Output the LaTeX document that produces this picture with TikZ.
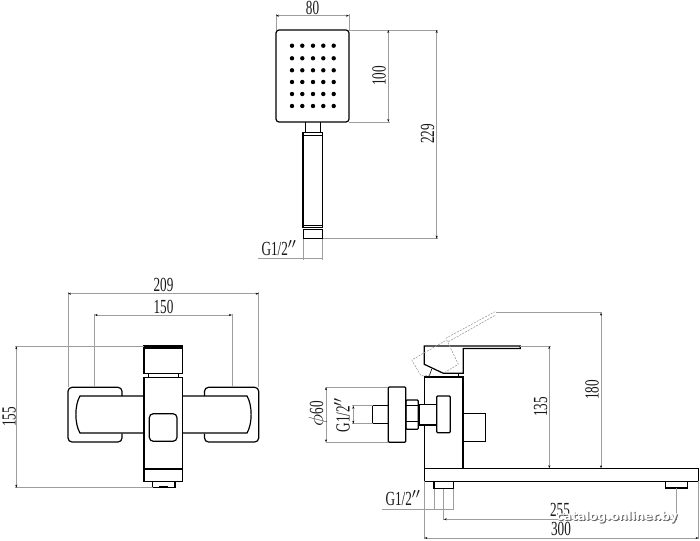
\documentclass[tikz,border=0pt]{standalone}
\usepackage{fontspec}
\usetikzlibrary{arrows.meta}
\newfontfamily\dimfont[FakeStretch=0.66]{Liberation Serif}
\newfontfamily\markfont{DejaVu Sans}
\definecolor{dimgray}{rgb}{0.62, 0.62, 0.62}
\tikzset{part/.style={line width=1.2pt, color=black}}
\tikzset{thinpart/.style={line width=0.6pt, color=black}}
\tikzset{dimline/.style={line width=0.6pt, color=dimgray}}
\tikzset{dimarrow/.style={line width=0.6pt, color=dimgray, {Stealth[length=3pt,width=2pt,black]}-{Stealth[length=3pt,width=2pt,black]}}}
\tikzset{ghost/.style={line width=0.6pt, color=dimgray, dash pattern=on 2pt off 1.2pt}}
\tikzset{dimtext/.style={font=\dimfont\fontsize{20}{20}\selectfont, inner sep=0pt, text=black!90}}
\tikzset{hole/.style={circle, fill=black, inner sep=0pt, minimum size=4.4pt}}
\tikzset{marktext/.style={font=\markfont\bfseries\fontsize{12}{12}\selectfont, inner sep=0pt}}

\begin{document}
\begin{tikzpicture}[x=1pt, y=-1pt]
        \useasboundingbox (0, 0) rectangle (700, 540);

        % hand shower
        \draw [part, rounded corners=3pt] (276, 30) rectangle (349, 122);
        \foreach \hx in {292, 302.3, 313, 323.3, 333.7}
            \foreach \hy in {45.7, 58.3, 70.3, 82, 94, 106}
                \node[hole] at (\hx, \hy) {};
        \draw [thinpart] (305.7, 122) -- (305.7, 132.7);
        \draw [thinpart] (320.3, 122) -- (320.3, 132.7);
        \draw [part] (303, 132.7) rectangle (322.7, 227.7);
        \draw [thinpart] (303, 135.5) -- (322.7, 135.5);
        \draw [thinpart] (303, 225) -- (322.7, 225);
        \draw [part] (303.3, 229.5) rectangle (322.7, 238.7);

        \draw [dimline] (276, 14) -- (276, 30);
        \draw [dimline] (349, 14) -- (349, 30);
        \coordinate (Wa) at (276, 15.7);
        \coordinate (Wb) at (349, 15.7);
        \draw [dimarrow] (Wa) -- (Wb);
        \node[dimtext] (Lw) at (312.5, 8) {80};

        \draw [dimline] (349, 30) -- (438, 30);
        \draw [dimline] (349, 122) -- (390, 122);
        \draw [dimline] (323, 238.7) -- (438, 238.7);
        \coordinate (Ha) at (388.3, 30);
        \coordinate (Hb) at (388.3, 122);
        \draw [dimarrow] (Ha) -- (Hb);
        \node[dimtext, rotate=90] (Lh) at (379, 76) {100};
        \coordinate (Ta) at (436.7, 30);
        \coordinate (Tb) at (436.7, 238.7);
        \draw [dimarrow] (Ta) -- (Tb);
        \node[dimtext, rotate=90] (Lt) at (427.5, 134) {229};

        \draw [dimline] (303, 238.7) -- (303, 260);
        \draw [dimline] (322.7, 238.7) -- (322.7, 260);
        \coordinate (Ga) at (258, 258.3);
        \coordinate (Gb) at (322.7, 258.3);
        \draw [dimline] (Ga) -- (Gb);
        \node[dimtext] (Lg) at (279, 248) {G1/2$''$};

        % front view
        \draw [part] (144, 377.7) rectangle (182.7, 481.3);
        \draw [line width=1.6pt] (144, 469) -- (182.7, 469);
        \draw [part] (144, 346) rectangle (182.7, 373.3);
        \draw [line width=1.6pt] (144, 347.8) -- (182.7, 347.8);
        \draw [thinpart] (148.7, 373.3) -- (148.7, 377.7);
        \draw [thinpart] (178.3, 373.3) -- (178.3, 377.7);
        \draw [part] (152.7, 481.3) rectangle (175, 487.7);
        \draw [line width=1.6pt] (159, 487.2) -- (168, 487.2);
        \draw [part, rounded corners=4pt] (149.3, 413.7) rectangle (177, 441.3);

        \draw [part, rounded corners=4pt] (122, 396) -- (122, 387.3) -- (68, 387.3) -- (68, 442) -- (122, 442) -- (122, 433.5);
        \draw [part] (144, 396) -- (80, 396) .. controls (74.5, 405) and (74.5, 424) .. (80, 433) -- (144, 433);
        \draw [part, rounded corners=4pt] (204.5, 396) -- (204.5, 387.3) -- (258.7, 387.3) -- (258.7, 442) -- (204.5, 442) -- (204.5, 433.5);
        \draw [part] (182.7, 396) -- (247, 396) .. controls (252.5, 405) and (252.5, 424) .. (247, 433) -- (182.7, 433);

        \draw [dimline] (68, 292) -- (68, 387.3);
        \draw [dimline] (258.7, 292) -- (258.7, 387.3);
        \draw [dimline] (94.7, 314) -- (94.7, 387.3);
        \draw [dimline] (232, 314) -- (232, 387.3);
        \coordinate (Fa) at (68, 293.7);
        \coordinate (Fb) at (258.7, 293.7);
        \draw [dimarrow] (Fa) -- (Fb);
        \node[dimtext] (Lf) at (163.5, 285) {209};
        \coordinate (Ea) at (94.7, 315);
        \coordinate (Eb) at (232, 315);
        \draw [dimarrow] (Ea) -- (Eb);
        \node[dimtext] (Le) at (163.5, 307) {150};

        \draw [dimline] (15, 346.3) -- (144, 346.3);
        \draw [dimline] (15, 487.7) -- (152.7, 487.7);
        \coordinate (Va) at (16.3, 346.3);
        \coordinate (Vb) at (16.3, 487.7);
        \draw [dimarrow] (Va) -- (Vb);
        \node[dimtext, rotate=90] (Lv) at (9, 417) {155};

        % side view
        \draw [part] (424.3, 468.3) rectangle (698.7, 481.3);
        \draw [part] (424.3, 377) rectangle (463, 468.3);
        \draw [part] (424.3, 364.3) -- (424.3, 346) -- (520.3, 346) -- (520.3, 348.5) -- (463.3, 348.5) -- (463.3, 373.3) -- (443.3, 373.3) -- cycle;
        \draw [thinpart] (431.7, 369) -- (429, 376.7);
        \draw [thinpart] (458.3, 373.3) -- (458.3, 376.7);
        \draw [part] (463, 413.3) rectangle (485.7, 441.3);
        \draw [part, fill=white] (419, 404.3) rectangle (436.7, 425);
        \draw [part, rounded corners=1pt, fill=white] (436.7, 396) rectangle (450.3, 432.7);
        \draw [part, rounded corners=1pt] (406, 400) rectangle (418.3, 429.3);
        \draw [thinpart] (406, 405.7) -- (418.3, 405.7);
        \draw [thinpart] (406, 421.7) -- (418.3, 421.7);
        \draw [part, rounded corners=1pt] (388.3, 387) rectangle (405.7, 442.3);
        \draw [part] (372.7, 405.7) rectangle (388.3, 423.7);
        \draw [part] (434, 481.3) rectangle (453.7, 488.7);
        \draw [part] (665.7, 481.3) rectangle (687.7, 488);
        \draw [line width=1.6pt] (671, 487.5) -- (680, 487.5);

        \draw [ghost] (430, 375.7) -- (421, 375.7) -- (411.7, 360) -- (446.7, 340) -- (458.3, 364.3) -- (443.3, 373.3);
        \draw [ghost] (445.7, 338.3) -- (495, 311.7);
        \draw [ghost] (448.3, 341.7) -- (495.7, 315);

        \draw [dimline] (496, 312.5) -- (602, 312.5);
        \draw [dimline] (520.3, 346) -- (551, 346);
        \coordinate (Sa) at (549.3, 346);
        \coordinate (Sb) at (549.3, 468.3);
        \draw [dimarrow] (Sa) -- (Sb);
        \node[dimtext, rotate=90] (Ls) at (540.5, 407) {135};
        \coordinate (Ra) at (601, 312.5);
        \coordinate (Rb) at (601, 468.3);
        \draw [dimarrow] (Ra) -- (Rb);
        \node[dimtext, rotate=90] (Lr) at (592, 390) {180};

        \draw [dimline] (326, 387) -- (388.3, 387);
        \draw [dimline] (326, 442.3) -- (388.3, 442.3);
        \coordinate (Pa) at (326, 387);
        \coordinate (Pb) at (326, 442.3);
        \draw [dimarrow] (Pa) -- (Pb);
        \node[dimtext, rotate=90] (Lp) at (318, 414) {$\phi$60};
        \draw [dimline] (352, 405.7) -- (372.7, 405.7);
        \draw [dimline] (352, 423.7) -- (372.7, 423.7);
        \coordinate (Qa) at (353.3, 405.7);
        \coordinate (Qb) at (353.3, 423.7);
        \draw [dimarrow] (Qa) -- (Qb);
        \node[dimtext, rotate=90] (Lq) at (342, 415) {G1/2$''$};

        \draw [dimline] (434, 488.7) -- (434, 510);
        \draw [dimline] (453.7, 488.7) -- (453.7, 510);
        \coordinate (Ba) at (382, 509);
        \coordinate (Bb) at (453.7, 509);
        \draw [dimline] (Ba) -- (Bb);
        \node[dimtext] (Lb) at (403, 498) {G1/2$''$};
        \draw [dimline] (443.7, 488.7) -- (443.7, 520);
        \draw [dimline] (676.7, 488) -- (676.7, 520);
        \coordinate (Ca) at (443.7, 519.3);
        \coordinate (Cb) at (676.7, 519.3);
        \draw [dimarrow] (Ca) -- (Cb);
        \node[dimtext] (Lc) at (560, 510) {255};
        \draw [dimline] (424.3, 481.3) -- (424.3, 539);
        \draw [dimline] (698.7, 481.3) -- (698.7, 539);
        \coordinate (Da) at (424.3, 538);
        \coordinate (Db) at (698.7, 538);
        \draw [dimarrow] (Da) -- (Db);
        \node[dimtext] (Ld) at (561, 529) {300};

        % watermark with its shadow
        \node[marktext, text=black!60] (Ms) at (618, 518) {catalog.onliner.by};
        \node[marktext, text=white] (Mt) at (617, 517) {catalog.onliner.by};

   \end{tikzpicture}
\end{document}
